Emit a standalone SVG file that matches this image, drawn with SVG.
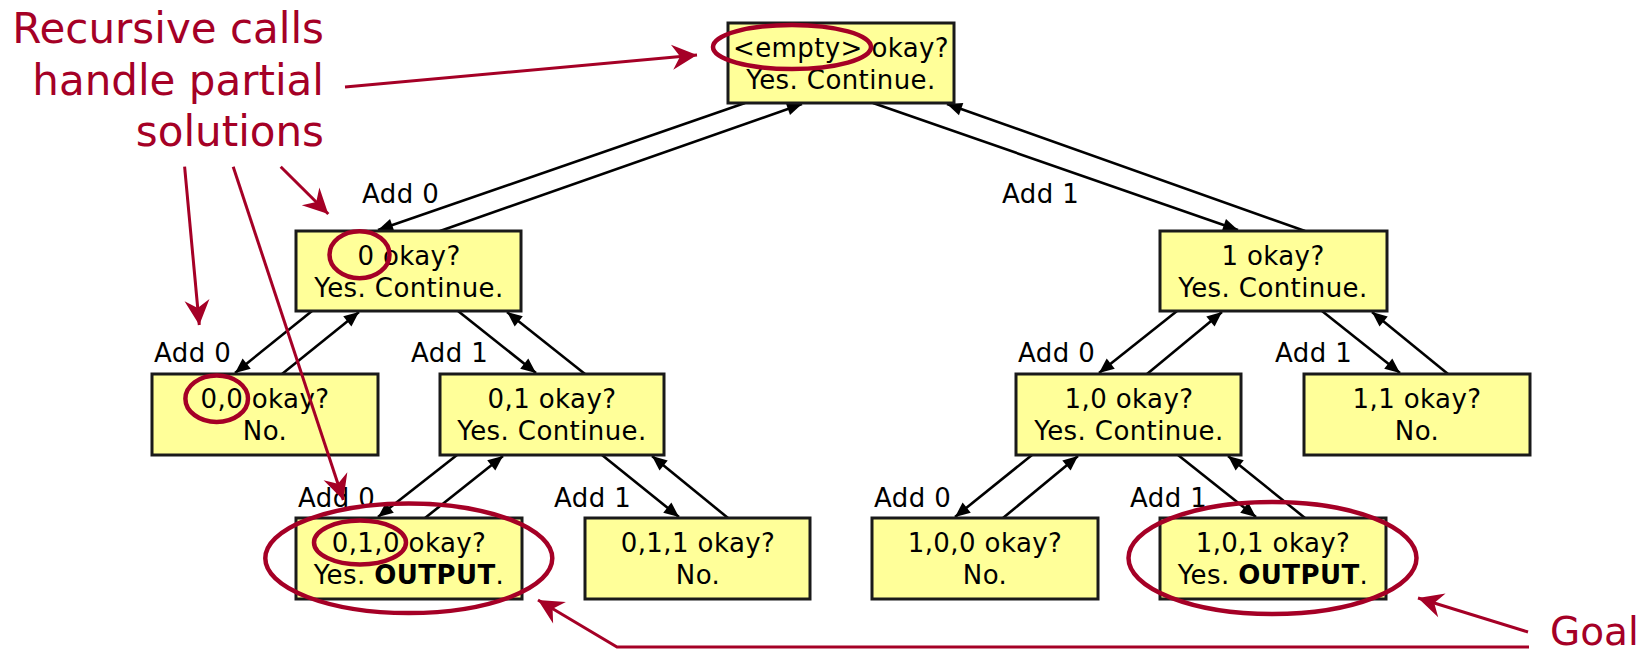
<svg xmlns="http://www.w3.org/2000/svg" width="1650" height="652" viewBox="0 0 1650 652">
  <style>
    .box { fill: #FFFF99; stroke: #1a1a1a; stroke-width: 3; }
    .t { font-family: "DejaVu Sans", Verdana, sans-serif; font-size: 26px; letter-spacing: 0.4px; fill: #000; text-anchor: middle; }
    .lbl { font-family: "DejaVu Sans", Verdana, sans-serif; font-size: 26px; letter-spacing: 0.4px; fill: #000; }
    .b { font-weight: bold; }
    .con { stroke: #000; stroke-width: 2.6; fill: none; marker-end: url(#ah); }
    .redarr { stroke: #A50026; stroke-width: 3; fill: none; marker-end: url(#rah); }
    .ring { stroke: #A50026; stroke-width: 4.5; fill: none; }
    .ann { font-family: "DejaVu Sans", Verdana, sans-serif; fill: #A50026; font-size: 42px; text-anchor: end; }
  </style>
  <defs>
    <marker id="ah" markerUnits="userSpaceOnUse" markerWidth="30" markerHeight="30" refX="0" refY="0" orient="auto" overflow="visible">
      <path d="M0,0 L-15,-6.5 L-15,6.5 Z" fill="#000"/>
    </marker>
    <marker id="rah" markerUnits="userSpaceOnUse" markerWidth="40" markerHeight="40" refX="0" refY="0" orient="auto" overflow="visible">
      <path d="M0,0 L-25,-12.5 L-17,0 L-25,12.5 Z" fill="#A50026"/>
    </marker>
  </defs>

  <g id="connectors">
    <line class="con" x1="745" y1="103" x2="378" y2="230"/>
    <line class="con" x1="440" y1="231" x2="802" y2="104"/>
    <line class="con" x1="873" y1="103" x2="1238" y2="230"/>
    <line class="con" x1="1305" y1="231" x2="947" y2="104"/>
    <line class="con" x1="312" y1="311" x2="235" y2="373"/>
    <line class="con" x1="282" y1="374" x2="359" y2="312"/>
    <line class="con" x1="458" y1="311" x2="536" y2="373"/>
    <line class="con" x1="585" y1="374" x2="507" y2="312"/>
    <line class="con" x1="1177" y1="311" x2="1099" y2="373"/>
    <line class="con" x1="1147" y1="374" x2="1222" y2="312"/>
    <line class="con" x1="1322" y1="311" x2="1400" y2="373"/>
    <line class="con" x1="1448" y1="374" x2="1372" y2="312"/>
    <line class="con" x1="457" y1="455" x2="378" y2="517"/>
    <line class="con" x1="425" y1="518" x2="503" y2="456"/>
    <line class="con" x1="602" y1="455" x2="679" y2="517"/>
    <line class="con" x1="728" y1="518" x2="652" y2="456"/>
    <line class="con" x1="1032" y1="455" x2="955" y2="517"/>
    <line class="con" x1="1003" y1="518" x2="1078" y2="456"/>
    <line class="con" x1="1178" y1="455" x2="1256" y2="517"/>
    <line class="con" x1="1305" y1="518" x2="1228" y2="456"/>
  </g>

  <g id="edge-labels">
    <text class="lbl" x="362" y="203">Add 0</text>
    <text class="lbl" x="1002" y="203">Add 1</text>
    <text class="lbl" x="154" y="362">Add 0</text>
    <text class="lbl" x="411" y="362">Add 1</text>
    <text class="lbl" x="1018" y="362">Add 0</text>
    <text class="lbl" x="1275" y="362">Add 1</text>
    <text class="lbl" x="298" y="507">Add 0</text>
    <text class="lbl" x="554" y="507">Add 1</text>
    <text class="lbl" x="874" y="507">Add 0</text>
    <text class="lbl" x="1130" y="507">Add 1</text>
  </g>

  <g id="n-root">
    <rect class="box" x="728" y="23" width="226" height="80"/>
    <text class="t" x="841" y="57">&lt;empty&gt; okay?</text>
    <text class="t" x="841" y="89">Yes. Continue.</text>
  </g>
  <g id="n-0">
    <rect class="box" x="296" y="231" width="225" height="80"/>
    <text class="t" x="409" y="265">0 okay?</text>
    <text class="t" x="409" y="297">Yes. Continue.</text>
  </g>
  <g id="n-1">
    <rect class="box" x="1160" y="231" width="227" height="80"/>
    <text class="t" x="1273" y="265">1 okay?</text>
    <text class="t" x="1273" y="297">Yes. Continue.</text>
  </g>
  <g id="n-00">
    <rect class="box" x="152" y="374" width="226" height="81"/>
    <text class="t" x="265" y="408">0,0 okay?</text>
    <text class="t" x="265" y="440">No.</text>
  </g>
  <g id="n-01">
    <rect class="box" x="440" y="374" width="224" height="81"/>
    <text class="t" x="552" y="408">0,1 okay?</text>
    <text class="t" x="552" y="440">Yes. Continue.</text>
  </g>
  <g id="n-10">
    <rect class="box" x="1016" y="374" width="225" height="81"/>
    <text class="t" x="1129" y="408">1,0 okay?</text>
    <text class="t" x="1129" y="440">Yes. Continue.</text>
  </g>
  <g id="n-11">
    <rect class="box" x="1304" y="374" width="226" height="81"/>
    <text class="t" x="1417" y="408">1,1 okay?</text>
    <text class="t" x="1417" y="440">No.</text>
  </g>
  <g id="n-010">
    <rect class="box" x="296" y="518" width="226" height="81"/>
    <text class="t" x="409" y="552">0,1,0 okay?</text>
    <text class="t" x="409" y="584">Yes. <tspan class="b">OUTPUT</tspan>.</text>
  </g>
  <g id="n-011">
    <rect class="box" x="585" y="518" width="225" height="81"/>
    <text class="t" x="698" y="552">0,1,1 okay?</text>
    <text class="t" x="698" y="584">No.</text>
  </g>
  <g id="n-100">
    <rect class="box" x="872" y="518" width="226" height="81"/>
    <text class="t" x="985" y="552">1,0,0 okay?</text>
    <text class="t" x="985" y="584">No.</text>
  </g>
  <g id="n-101">
    <rect class="box" x="1160" y="518" width="226" height="81"/>
    <text class="t" x="1273" y="552">1,0,1 okay?</text>
    <text class="t" x="1273" y="584">Yes. <tspan class="b">OUTPUT</tspan>.</text>
  </g>

  <g id="annotations">
    <ellipse class="ring" cx="792" cy="47" rx="79" ry="22"/>
    <ellipse class="ring" cx="359.5" cy="254.7" rx="30" ry="23.5"/>
    <ellipse class="ring" cx="216.7" cy="398.7" rx="31.3" ry="23.3"/>
    <ellipse class="ring" cx="360" cy="542.5" rx="46" ry="22"/>
    <ellipse class="ring" cx="408.8" cy="558.3" rx="143.5" ry="54.7"/>
    <ellipse class="ring" cx="1272.5" cy="558" rx="144" ry="56"/>

    <text class="ann" x="324" y="43">Recursive calls</text>
    <text class="ann" x="324" y="95">handle partial</text>
    <text class="ann" x="324" y="146">solutions</text>
    <text class="ann" x="1550" y="645" style="text-anchor:start;font-size:39px">Goal</text>

    <line class="redarr" x1="345" y1="87" x2="697" y2="55"/>
    <line class="redarr" x1="184.6" y1="166.7" x2="199.3" y2="325"/>
    <line class="redarr" x1="233.2" y1="166.7" x2="343.3" y2="500"/>
    <line class="redarr" x1="280.7" y1="166.7" x2="328.3" y2="214"/>
    <line class="redarr" x1="1528" y1="632" x2="1418" y2="598"/>
    <polyline class="redarr" points="1529,647 617,647 538,600"/>
  </g>
</svg>
